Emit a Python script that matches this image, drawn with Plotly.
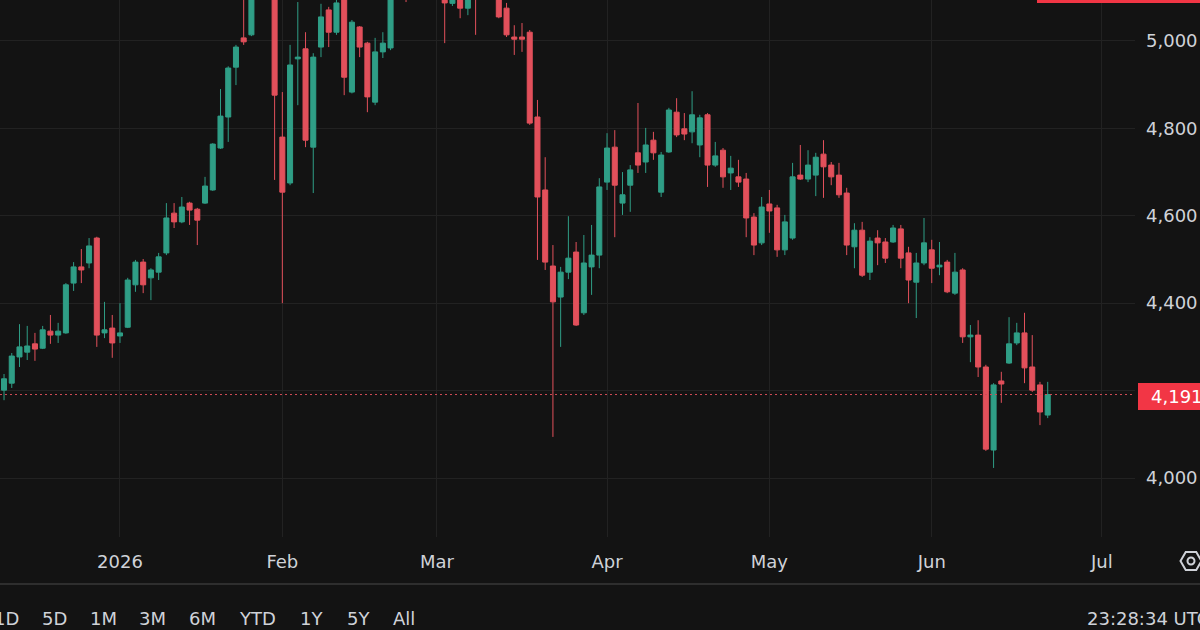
import pandas as pd
import plotly.graph_objects as go

# ---------------- data ----------------
holidays = ["2025-12-25", "2026-01-01", "2026-04-03"]
trade_days = [d for d in pd.bdate_range("2025-12-10", "2026-06-22")
              if d.strftime("%Y-%m-%d") not in holidays]
dates = [d + pd.Timedelta(hours=12) for d in trade_days]

opens = [4201, 4217, 4277, 4288, 4307, 4297, 4336, 4327, 4332, 4446, 4483, 4492, 4549, 4332, 4343,
         4325, 4345, 4442, 4494, 4458, 4471, 4515, 4606, 4586, 4629, 4615, 4629, 4659, 4755, 4826, 4940,
         5007, 5014, 5180, 5300, 5350,
         4780, 4675, 4959, 4982, 4757, 4986, 5071, 5020, 5110, 4883, 5032, 4995, 4860, 4975, 4984,
         5110, 5180, 5130, 5170, 5200,
         5280, 5150, 5086, 5130, 5075, 5150, 5110, 5140, 5120, 5075, 5009, 5009, 5020, 4826, 4659,
         4485, 4414, 4471, 4517, 4378, 4483, 4510,
         4677, 4757, 4629, 4670, 4744, 4723, 4773, 4654, 4746, 4837, 4799, 4792, 4762, 4831, 4716,
         4750, 4698, 4689, 4684, 4597, 4538,
         4627, 4618, 4522, 4549, 4693, 4684, 4693, 4741, 4716, 4693, 4652, 4529, 4567, 4471, 4549,
         4540, 4540, 4570, 4515, 4448, 4492,
         4522, 4483, 4494, 4423, 4476, 4323, 4327, 4254, 4064, 4222, 4263, 4309, 4332, 4254, 4213, 4144]
highs = [4238, 4286, 4352, 4348, 4332, 4348, 4373, 4355, 4446, 4494, 4524, 4549, 4552, 4403, 4373,
         4400, 4458, 4499, 4501, 4480, 4515, 4629, 4629, 4643, 4632, 4618, 4689, 4766, 4890, 4942, 4991,
         5110, 5200, 5320, 5600, 5400,
         4883, 4991, 5089, 5020, 4972, 5085, 5078, 5110, 5130, 5048, 5034, 4998, 5007, 5020, 5120,
         5170, 5200, 5200, 5230, 5260,
         5400, 5200, 5150, 5160, 5140, 5170, 5170, 5160, 5140, 5087, 5036, 5041, 5025, 4865, 4734,
         4533, 4483, 4599, 4540, 4556, 4579, 4686,
         4789, 4796, 4700, 4716, 4858, 4801, 4792, 4746, 4847, 4869, 4835, 4885, 4831, 4835, 4769,
         4755, 4737, 4728, 4698, 4606, 4643,
         4659, 4625, 4602, 4721, 4762, 4750, 4744, 4773, 4723, 4721, 4664, 4583, 4586, 4551, 4567,
         4549, 4579, 4579, 4529, 4515, 4595,
         4545, 4540, 4499, 4515, 4480, 4350, 4361, 4259, 4217, 4243, 4368, 4355, 4378, 4327, 4220, 4220]
lows = [4178, 4206, 4254, 4270, 4268, 4295, 4307, 4309, 4330, 4428, 4446, 4480, 4300, 4320, 4275,
        4309, 4343, 4426, 4423, 4407, 4453, 4510, 4572, 4583, 4579, 4533, 4627, 4657, 4753, 4769, 4899,
        4991, 5011, 5150, 5120, 4682,
        4400, 4670, 4853, 4757, 4652, 4963, 4986, 5014, 4876, 4880, 4963, 4837, 4853, 4961, 4979,
        5100, 5089, 5110, 5140, 5170,
        5150, 4995, 5080, 5052, 5059, 5014, 5100, 5100, 5052, 5009, 4968, 4975, 4808, 4499, 4476,
        4094, 4300, 4455, 4348, 4373, 4419, 4480,
        4659, 4551, 4602, 4609, 4698, 4698, 4728, 4643, 4744, 4780, 4773, 4766, 4734, 4666, 4712,
        4664, 4659, 4666, 4551, 4510, 4533,
        4561, 4506, 4510, 4545, 4682, 4677, 4645, 4641, 4670, 4641, 4510, 4480, 4460, 4453, 4487,
        4492, 4538, 4480, 4400, 4366, 4487,
        4446, 4464, 4423, 4419, 4309, 4265, 4231, 4062, 4023, 4172, 4261, 4304, 4217, 4197, 4121, 4137]
closes = [4227, 4279, 4300, 4302, 4295, 4339, 4327, 4336, 4442, 4483, 4476, 4531, 4327, 4339, 4309,
          4332, 4453, 4494, 4442, 4476, 4506, 4595, 4586, 4620, 4613, 4590, 4668, 4764, 4828, 4938, 4986,
          4998, 5180, 5300, 5380, 4876,
          4654, 4945, 4963, 4773, 4963, 5055, 5020, 5087, 4917, 5043, 4986, 4872, 4975, 4995, 5100,
          5150, 5120, 5170, 5200, 5240,
          5250, 5087, 5130, 5075, 5120, 5110, 5140, 5120, 5055, 5014, 5004, 5004, 4812, 4643, 4494,
          4403, 4471, 4503, 4350, 4492, 4510, 4666,
          4755, 4670, 4648, 4705, 4716, 4762, 4744, 4739, 4842, 4785, 4787, 4831, 4824, 4716, 4737,
          4689, 4709, 4677, 4595, 4533, 4620,
          4611, 4522, 4586, 4689, 4684, 4716, 4734, 4712, 4689, 4648, 4533, 4567, 4464, 4542, 4538,
          4503, 4572, 4503, 4453, 4492, 4538,
          4480, 4487, 4426, 4471, 4323, 4327, 4254, 4066, 4213, 4215, 4307, 4332, 4252, 4201, 4151, 4191]

assert len(dates) == len(opens) == len(highs) == len(lows) == len(closes) == 136

last_price = 4191
month_ticks = ["2026-01-02 12:00", "2026-02-02 12:00", "2026-03-02 12:00", "2026-04-01 12:00",
               "2026-05-01 12:00", "2026-06-01 12:00", "2026-07-01 12:00"]
month_labels = ["2026", "Feb", "Mar", "Apr", "May", "Jun", "Jul"]
price_ticks = [4000, 4200, 4400, 4600, 4800, 5000]
price_labels = ["4,000", "", "4,400", "4,600", "4,800", "5,000"]
range_buttons = ["1D", "5D", "1M", "3M", "6M", "YTD", "1Y", "5Y", "All"]
clock_text = "23:28:34 UTC"

# ---------------- style ----------------
BG = "#131313"
GRID = "#222222"
UP = "#2f9e86"
DOWN = "#e2505b"
RED = "#f23645"
TXT = "#cfd2d8"
FONT = "DejaVu Sans"

W, H = 1200, 630
PL, PR, PT, PB = 0, 1135, 0, 537


def px(x):
    return (x - PL) / (PR - PL)


def py(y):
    return (PB - y) / (PB - PT)


fig = go.Figure()
fig.add_trace(go.Candlestick(
    x=dates, open=opens, high=highs, low=lows, close=closes,
    increasing=dict(line=dict(color=UP, width=1), fillcolor=UP),
    decreasing=dict(line=dict(color=DOWN, width=1), fillcolor=DOWN),
    whiskerwidth=0, showlegend=False, hoverinfo="skip",
))

shapes = [
    # last price dotted line
    dict(type="line", xref="paper", yref="y", x0=0, x1=1, y0=last_price, y1=last_price,
         line=dict(color="#d14c56", width=1, dash="2px,3px"), layer="above"),
    # last price box
    dict(type="rect", xref="paper", yref="paper", x0=px(1138), x1=px(1215), y0=py(410), y1=py(383),
         fillcolor=RED, line=dict(width=0), layer="above"),
    # top red bar (cut label)
    dict(type="rect", xref="paper", yref="paper", x0=px(1037), x1=px(1215), y0=py(3), y1=py(-3),
         fillcolor=RED, line=dict(width=0), layer="above"),
    # separator line above toolbar
    dict(type="line", xref="paper", yref="paper", x0=px(-5), x1=px(1205), y0=py(584), y1=py(584),
         line=dict(color="#2e2e2e", width=2), layer="above"),
]

# settings icon (hexagon + circle)
cx, cy, r = 1191, 561, 10.5
hexpts = [(cx + r, cy), (cx + r / 2, cy - r * 0.866), (cx - r / 2, cy - r * 0.866),
          (cx - r, cy), (cx - r / 2, cy + r * 0.866), (cx + r / 2, cy + r * 0.866)]
path = "M " + " L ".join(f"{px(a):.5f},{py(b):.5f}" for a, b in hexpts) + " Z"
shapes.append(dict(type="path", xref="paper", yref="paper", path=path,
                   line=dict(color=TXT, width=2), layer="above"))
shapes.append(dict(type="circle", xref="paper", yref="paper",
                   x0=px(cx - 3.5), x1=px(cx + 3.5), y0=py(cy + 3.5), y1=py(cy - 3.5),
                   line=dict(color=TXT, width=2), layer="above"))

annotations = [
    dict(text=f"{last_price:,}", xref="paper", yref="paper", x=px(1149), y=py(396.5),
         xanchor="left", yanchor="middle", showarrow=False,
         font=dict(family=FONT, size=18, color="#ffffff")),
    dict(text=clock_text, xref="paper", yref="paper", x=px(1085), y=py(618),
         xanchor="left", yanchor="middle", showarrow=False,
         font=dict(family=FONT, size=18, color=TXT)),
]
btn_x = [6, 54, 103, 152, 202, 257, 311, 358, 404]
for lab, bx in zip(range_buttons, btn_x):
    annotations.append(dict(text=lab, xref="paper", yref="paper", x=px(bx), y=py(618),
                            xanchor="center", yanchor="middle", showarrow=False,
                            font=dict(family=FONT, size=18, color=TXT)))

fig.update_layout(
    width=W, height=H,
    margin=dict(l=PL, r=W - PR, t=PT, b=H - PB),
    paper_bgcolor=BG, plot_bgcolor=BG,
    boxgap=0.35, boxgroupgap=0,
    font=dict(family=FONT, size=18, color=TXT),
    xaxis=dict(
        type="date",
        range=["2025-12-09 23:30", "2026-07-07 19:00"],
        rangebreaks=[dict(bounds=["sat", "mon"]), dict(values=holidays)],
        rangeslider=dict(visible=False),
        tickmode="array", tickvals=month_ticks, ticktext=month_labels,
        showgrid=True, gridcolor=GRID, gridwidth=1, zeroline=False, showline=False,
        ticks="", ticklabelstandoff=12,
        tickfont=dict(family=FONT, size=18, color=TXT),
    ),
    yaxis=dict(
        side="right",
        range=[3865, 5093.7],
        tickmode="array", tickvals=price_ticks, ticktext=price_labels,
        showgrid=True, gridcolor=GRID, gridwidth=1, zeroline=False, showline=False,
        ticks="", ticklabelstandoff=10,
        tickfont=dict(family=FONT, size=18, color=TXT),
    ),
    shapes=shapes,
    annotations=annotations,
    showlegend=False,
)

fig.write_html("out.html")
